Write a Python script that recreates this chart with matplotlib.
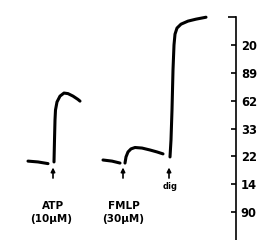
import matplotlib
matplotlib.use('Agg')
import matplotlib.pyplot as plt

# Traços de fluorescência (tempo em s, sinal em unidades da escala)
atp_base_t = [28, 38, 48]
atp_base_v = [1.83, 1.80, 1.74]
atp_resp_t = [54, 54.5, 55, 55.5, 57, 60, 64, 68, 73, 78, 80]
atp_resp_v = [1.80, 2.59, 3.31, 3.67, 3.96, 4.17, 4.28, 4.26, 4.17, 4.05, 3.99]

fmlp_base_t = [103, 112, 120]
fmlp_base_v = [1.87, 1.83, 1.76]
fmlp_resp_t = [125, 126, 128, 131, 135, 142, 150, 157, 163]
fmlp_resp_v = [1.76, 1.98, 2.16, 2.27, 2.32, 2.30, 2.23, 2.16, 2.09]

dig_t = [170, 171, 172, 173, 174, 175, 177, 181, 188, 196, 206]
dig_v = [1.98, 2.59, 3.67, 5.11, 6.01, 6.40, 6.62, 6.76, 6.87, 6.94, 7.01]

# Escala de cálcio (só os dígitos visíveis na figura original)
scale_ticks = [0, 1, 2, 3, 4, 5, 6]
scale_labels = ['90', '14', '22', '33', '62', '89', '20']
scale_top = 7.01

# Estímulos: posição da seta e rótulos
stim_t = [53, 123, 169]
stim_names = ['ATP', 'FMLP', 'dig']
stim_doses = ['(10\u03bcM)', '(30\u03bcM)', '']

fig = plt.figure(figsize=(2.6, 2.4), dpi=100)
ax = fig.add_axes([0, 0, 1, 1])
ax.set_xlim(0, 260)
ax.set_ylim(-1.01, 7.63)

trace = dict(color='black', lw=2.2, solid_capstyle='round', solid_joinstyle='round')
ax.plot(atp_base_t, atp_base_v, **trace)
ax.plot(atp_resp_t, atp_resp_v, **trace)
ax.plot(fmlp_base_t, fmlp_base_v, **trace)
ax.plot(fmlp_resp_t, fmlp_resp_v, **trace)
ax.plot(dig_t, dig_v, **trace)

# Setas dos estímulos
for t in stim_t:
    ax.annotate('', xy=(t, 1.60), xytext=(t, 1.22),
                arrowprops=dict(arrowstyle='-|>', color='black', lw=1.2,
                                mutation_scale=6, shrinkA=0, shrinkB=0))

font = dict(family='DejaVu Sans', weight='bold', color='black')
ax.text(53, 0.22, stim_names[0], ha='center', va='center', fontsize=7.5, **font)
ax.text(51, -0.25, stim_doses[0], ha='center', va='center', fontsize=7.5, **font)
ax.text(124, 0.22, stim_names[1], ha='center', va='center', fontsize=7.5, **font)
ax.text(123, -0.25, stim_doses[1], ha='center', va='center', fontsize=7.5, **font)
ax.text(170, 0.93, stim_names[2], ha='center', va='center', fontsize=6, **font)

# Eixo da escala à direita
for s in ['left', 'top', 'bottom']:
    ax.spines[s].set_visible(False)
ax.spines['right'].set_position(('data', 236))
ax.spines['right'].set_bounds(-1.01, scale_top)
ax.spines['right'].set_linewidth(1.2)
ax.xaxis.set_visible(False)
ax.yaxis.tick_right()
ax.set_yticks(scale_ticks)
ax.set_yticklabels(scale_labels, fontsize=8.3, fontweight='bold')
ax.set_yticks([scale_top], minor=True)
ax.tick_params(axis='y', which='major', direction='in', length=3.5, width=1.2, pad=3.5)
ax.tick_params(axis='y', which='minor', direction='in', length=6, width=1.2)

fig.savefig('out.png', dpi=100)
